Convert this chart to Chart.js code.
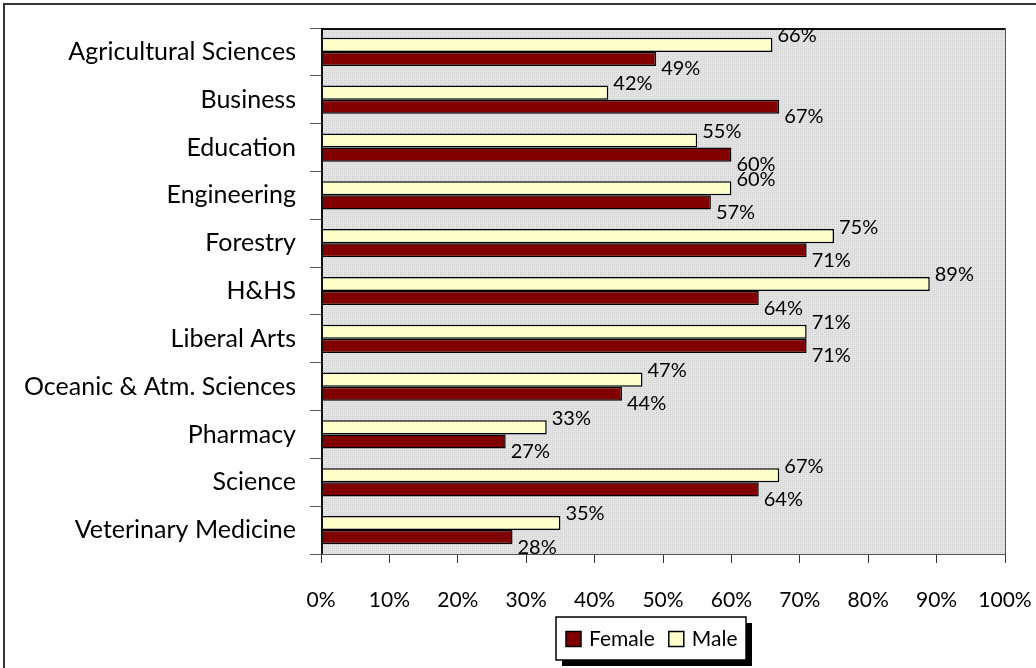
<!DOCTYPE html>
<html>
<head>
<meta charset="utf-8">
<script src="https://cdn.jsdelivr.net/npm/chart.js@4.4.1/dist/chart.umd.min.js"></script>
<style>
    html, body { margin: 0; padding: 0; background: #fff; }
    #wrap { position: relative; width: 1036px; height: 668px; overflow: hidden; }
    #frame { position: absolute; left: 3px; top: 3px; width: 1100px; height: 700px;
             border-top: 2px solid #333; border-left: 2px solid #333; pointer-events: none; }
</style>
</head>
<body>
<div id="wrap">
    <canvas id="surveyChart" width="1036" height="668"></canvas>
    <div id="frame"></div>
</div>
<script>
// Colleges (top to bottom)
const colleges = ['Agricultural Sciences', 'Business', 'Education', 'Engineering', 'Forestry', 'H&HS',
    'Liberal Arts', 'Oceanic & Atm. Sciences', 'Pharmacy', 'Science', 'Veterinary Medicine'];

// Percentages
const maleValues = [66, 42, 55, 60, 75, 89, 71, 47, 33, 67, 35];
const femaleValues = [49, 67, 60, 57, 71, 64, 71, 44, 27, 64, 28];

const xTicks = [0, 10, 20, 30, 40, 50, 60, 70, 80, 90, 100];

const FONT = 'Lato, "DejaVu Sans", sans-serif';

// Gray dotted fill for the plot area
function makeDotPattern(ctx) {
    const c = document.createElement('canvas');
    c.width = 4; c.height = 4;
    const p = c.getContext('2d');
    p.fillStyle = '#e4e4e4';
    p.fillRect(0, 0, 4, 4);
    p.fillStyle = '#cbcbcb';
    p.fillRect(0, 0, 1, 1);
    p.fillRect(2, 2, 1, 1);
    p.fillStyle = '#d8d8d8';
    p.fillRect(2, 0, 1, 1);
    p.fillRect(0, 2, 1, 1);
    return ctx.createPattern(c, 'repeat');
}

// Plot background + border
const plotArea = {
    id: 'plotArea',
    beforeDraw(chart) {
        const { ctx, chartArea: a } = chart;
        ctx.save();
        ctx.fillStyle = makeDotPattern(ctx);
        ctx.fillRect(a.left, a.top, a.right - a.left, a.bottom - a.top);
        ctx.restore();
    },
    afterDatasetsDraw(chart) {
        const { ctx, chartArea: a } = chart;
        ctx.save();
        ctx.strokeStyle = '#555';
        ctx.lineWidth = 1;
        ctx.strokeRect(a.left + 0.5, a.top + 0.5, a.right - a.left, a.bottom - a.top);
        ctx.strokeStyle = '#111';
        ctx.lineWidth = 2;
        ctx.beginPath();
        ctx.moveTo(a.left, a.top + 1);
        ctx.lineTo(a.right, a.top + 1);
        ctx.moveTo(a.left + 1, a.top);
        ctx.lineTo(a.left + 1, a.bottom);
        ctx.stroke();
        ctx.restore();
    }
};

// Value labels: male above the bar end, female below it
const valueLabels = {
    id: 'valueLabels',
    afterDatasetsDraw(chart) {
        const { ctx } = chart;
        ctx.save();
        ctx.font = '20px ' + FONT;
        ctx.fillStyle = '#000';
        ctx.textAlign = 'left';
        ctx.textBaseline = 'middle';
        chart.data.datasets.forEach((ds, i) => {
            const meta = chart.getDatasetMeta(i);
            const shift = ds.label === 'Male' ? -9 : 10;
            meta.data.forEach((bar, j) => {
                ctx.fillText(ds.data[j] + '%', bar.x + 5, bar.y + shift);
            });
        });
        ctx.restore();
    }
};

// Boxed legend with a drop shadow
const boxLegend = {
    id: 'boxLegend',
    afterDraw(chart) {
        const { ctx } = chart;
        const x = 556, y = 617, w = 190, h = 43;
        ctx.save();
        ctx.fillStyle = '#000';
        ctx.fillRect(x + 6, y + 6, w, h);
        ctx.fillStyle = '#fff';
        ctx.fillRect(x, y, w, h);
        ctx.strokeStyle = '#000';
        ctx.lineWidth = 1.5;
        ctx.strokeRect(x, y, w, h);
        ctx.font = '21px ' + FONT;
        ctx.textBaseline = 'middle';
        ctx.textAlign = 'left';
        let cx = x + 10;
        const order = chart.data.datasets.slice().reverse();
        order.forEach(ds => {
            ctx.fillStyle = ds.backgroundColor;
            ctx.fillRect(cx, y + h / 2 - 7, 15, 15);
            ctx.lineWidth = 1.5;
            ctx.strokeRect(cx, y + h / 2 - 7, 15, 15);
            ctx.fillStyle = '#000';
            ctx.fillText(ds.label, cx + 23, y + h / 2 + 1);
            cx += 23 + ctx.measureText(ds.label).width + 14;
        });
        ctx.restore();
    }
};

const ctx = document.getElementById('surveyChart').getContext('2d');

const surveyChart = new Chart(ctx, {
    type: 'bar',
    data: {
        labels: colleges,
        datasets: [{
            label: 'Male',
            data: maleValues,
            backgroundColor: '#ffffcc',
            borderColor: '#000',
            borderWidth: 1.5,
            categoryPercentage: 0.59,
            barPercentage: 1.0
        }, {
            label: 'Female',
            data: femaleValues,
            backgroundColor: '#800000',
            borderColor: '#000',
            borderWidth: 1.5,
            categoryPercentage: 0.59,
            barPercentage: 1.0
        }]
    },
    options: {
        indexAxis: 'y',
        responsive: false,
        animation: false,
        layout: { padding: { top: 28, right: 31, left: 0, bottom: 0 } },
        plugins: {
            legend: { display: false },
            tooltip: { enabled: false }
        },
        scales: {
            x: {
                min: 0,
                max: 100,
                afterBuildTicks: scale => { scale.ticks = xTicks.map(v => ({ value: v })); },
                afterFit: scale => {
                    scale.height = 114;
                    scale.paddingLeft = 0;
                    scale.paddingRight = 0;
                },
                border: { display: false },
                grid: { drawOnChartArea: false, tickLength: 9, color: '#333' },
                ticks: {
                    padding: 25,
                    color: '#000',
                    font: { family: FONT, size: 21 },
                    callback: v => v + '%'
                }
            },
            y: {
                afterFit: scale => {
                    scale.width = 321;
                    scale.paddingTop = 0;
                    scale.paddingBottom = 0;
                },
                border: { display: false },
                grid: { offset: true, drawOnChartArea: false, tickLength: 11, color: '#555' },
                ticks: {
                    padding: 14,
                    color: '#000',
                    font: { family: FONT, size: 25 }
                }
            }
        }
    },
    plugins: [plotArea, valueLabels, boxLegend]
});
</script>
</body>
</html>
